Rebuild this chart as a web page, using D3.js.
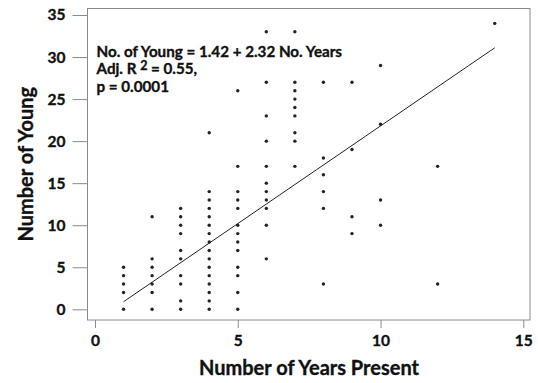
<!DOCTYPE html>
<html><head><meta charset="utf-8">
<script src="https://cdn.jsdelivr.net/npm/d3@7"></script>
<style>
html,body{margin:0;padding:0;background:#fff;}
svg{display:block;}
text{font-family:Lato,"Open Sans",sans-serif;font-weight:bold;fill:#111;stroke:#111;stroke-width:0.35px;}
</style></head>
<body>
<svg id="c" width="538" height="383"></svg>
<script>
// Data
const yearsPresent = [
  1,1,1,1,1,
  2,2,2,2,2,2,2,
  3,3,3,3,3,3,3,3,3,3,
  4,4,4,4,4,4,4,4,4,4,4,4,4,4,4,4,
  5,5,5,5,5,5,5,5,5,5,5,5,5,
  6,6,6,6,6,6,6,6,6,6,6,
  7,7,7,7,7,7,7,7,7,
  8,8,8,8,8,8,
  9,9,9,9,
  10,10,10,10,
  12,12,
  14
];
const numberOfYoung = [
  0,2,3,4,5,
  0,2,3,4,5,6,11,
  0,1,3,4,6,7,9,10,11,12,
  0,1,2,3,4,5,6,7,8,9,10,11,12,13,14,21,
  0,2,4,5,7,8,9,10,12,13,14,17,26,
  6,10,12,13,14,15,17,20,23,27,33,
  17,20,21,23,24,25,26,27,33,
  3,12,14,16,18,27,
  9,11,19,27,
  10,13,22,29,
  3,17,
  34
];
const fitX = [1, 14];
const fitY = [0.9, 31.1];
const xTicks = [0, 5, 10, 15];
const yTicks = [0, 5, 10, 15, 20, 25, 30, 35];
const annotationLines = ["No. of Young = 1.42 + 2.32 No. Years", "Adj. R", "p = 0.0001"];

const svg = d3.select("#c");
const box = {left: 87.5, right: 530, top: 8.5, bottom: 320};
const x = d3.scaleLinear().domain([0, 15]).range([95, 523.3]);
const y = d3.scaleLinear().domain([0, 35]).range([309.3, 15]);

// frame
svg.append("rect").attr("x", box.left).attr("y", box.top)
  .attr("width", box.right - box.left).attr("height", box.bottom - box.top)
  .attr("fill", "none").attr("stroke", "#8a8a8a").attr("stroke-width", 1);

// x axis
const xAxis = d3.axisBottom(x).tickValues(xTicks).tickSize(8).tickPadding(7).tickFormat(d3.format("d"));
const gx = svg.append("g").attr("transform", `translate(0,${box.bottom})`).call(xAxis);
gx.select(".domain").remove();
gx.selectAll(".tick line").attr("stroke", "#8a8a8a");
gx.selectAll(".tick text").attr("font-size", 15.5).attr("font-family", "Lato, sans-serif").attr("font-weight", "bold").attr("fill", "#111");

// y axis
const yAxis = d3.axisLeft(y).tickValues(yTicks).tickSize(15).tickPadding(7).tickFormat(d3.format("d"));
const gy = svg.append("g").attr("transform", `translate(${box.left},0)`).call(yAxis);
gy.select(".domain").remove();
gy.selectAll(".tick line").attr("stroke", "#8a8a8a");
gy.selectAll(".tick text").attr("font-size", 15.5).attr("font-family", "Lato, sans-serif").attr("font-weight", "bold").attr("fill", "#111");

// axis titles
svg.append("text").attr("x", 309).attr("y", 375)
  .attr("text-anchor", "middle").attr("font-size", 20).text("Number of Years Present");
svg.append("text").attr("transform", `translate(32.5,${(box.top + box.bottom) / 2}) rotate(-90)`)
  .attr("text-anchor", "middle").attr("font-size", 20).text("Number of Young");

// points
svg.append("g").selectAll("circle").data(yearsPresent.map((d, i) => [d, numberOfYoung[i]]))
  .join("circle").attr("cx", d => x(d[0])).attr("cy", d => y(d[1])).attr("r", 1.7).attr("fill", "#222");

// fit line
svg.append("path").datum(fitX.map((d, i) => [d, fitY[i]]))
  .attr("d", d3.line().x(d => x(d[0])).y(d => y(d[1])))
  .attr("fill", "none").attr("stroke", "#222").attr("stroke-width", 1);

// annotation
const ann = svg.append("g").attr("font-size", 15.2);
ann.append("text").attr("x", 96.5).attr("y", 56.5).text(annotationLines[0]);
const t2 = ann.append("text").attr("x", 96.5).attr("y", 74);
t2.append("tspan").text(annotationLines[1] + " ");
t2.append("tspan").attr("dy", -4).attr("font-size", 12.5).text("2");
t2.append("tspan").attr("dy", 4).text(" = 0.55,");
ann.append("text").attr("x", 96.5).attr("y", 91.5).text(annotationLines[2]);
</script>
</body></html>
